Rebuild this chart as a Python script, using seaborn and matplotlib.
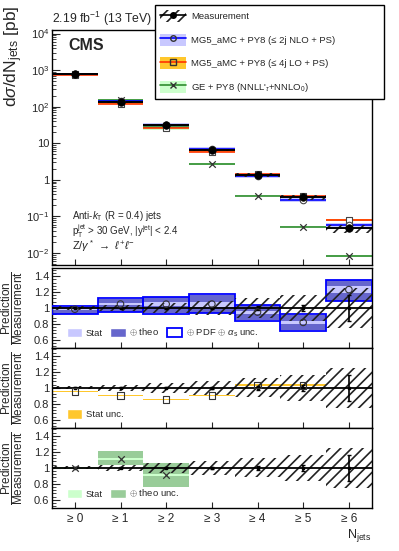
import numpy as np
import pandas as pd
import matplotlib
matplotlib.use("Agg")
import matplotlib.pyplot as plt
import seaborn as sns
from matplotlib.patches import Patch
from matplotlib.lines import Line2D
from matplotlib.ticker import FixedLocator, AutoMinorLocator, FuncFormatter, LogLocator, NullFormatter

# ---------------- data ----------------
categories = ["≥ 0", "≥ 1", "≥ 2", "≥ 3", "≥ 4", "≥ 5", "≥ 6"]
meas = [780, 134, 30.7, 6.6, 1.37, 0.342, 0.0475]
meas_stat = [0.003, 0.005, 0.008, 0.012, 0.025, 0.035, 0.16]
meas_tot = [0.02, 0.04, 0.06, 0.09, 0.12, 0.16, 0.25]

nlo = [768, 140.7, 32.2, 6.93, 1.30, 0.280, 0.0585]
nlo_stat = [0.005, 0.015, 0.02, 0.03, 0.02, 0.02, 0.035]
nlo_theo_up = [0.03, 0.065, 0.085, 0.11, 0.095, 0.12, 0.095]
nlo_theo_dn = [0.055, 0.095, 0.11, 0.105, 0.11, 0.12, 0.115]
nlo_pdf_up = [0.035, 0.07, 0.09, 0.115, 0.10, 0.125, 0.10]
nlo_pdf_dn = [0.06, 0.10, 0.115, 0.11, 0.115, 0.125, 0.12]

lo = [741, 120.6, 26.1, 5.94, 1.418, 0.352, 0.0787]
lo_stat = [0.005, 0.005, 0.006, 0.008, 0.012, 0.012, 0.02]

ge = [776, 148.7, 27.9, 2.69, 0.37, 0.0525, 0.0083]
ge_stat = [0.003, 0.01, 0.01, 0.01, 0.01, 0.01, 0.01]
ge_theo_up = [0.012, 0.09, 0.17, 0.05, 0.05, 0.05, 0.05]
ge_theo_dn = [0.012, 0.07, 0.16, 0.05, 0.05, 0.05, 0.05]

# ---------------- style ----------------
sns.set_theme(style="ticks")
plt.rcParams["font.family"] = ["Liberation Sans", "DejaVu Sans"]
plt.rcParams.update({
    "mathtext.fontset": "custom",
    "mathtext.rm": "Liberation Sans",
    "mathtext.it": "Liberation Sans:italic",
    "mathtext.bf": "Liberation Sans:bold",
    "hatch.linewidth": 1.2,
    "hatch.color": "#222222",
    "axes.linewidth": 1.0,
    "axes.edgecolor": "black",
})

C_NLO_LINE = "#0000ff"
C_NLO_BAND = "#c8c8ff"
C_NLO_THEO = "#6666cc"
C_LO_LINE = "#ff3300"
C_LO_BAND = "#ffc72c"
C_GE_LINE = "#2e8b2e"
C_GE_BAND = "#ccffcc"
C_GE_THEO = "#99cc99"
HATCH = "///"

x = np.arange(len(categories))
meas_a = np.array(meas)
nlo_a, lo_a, ge_a = np.array(nlo), np.array(lo), np.array(ge)

df = pd.DataFrame({"pos": x, "meas": meas_a, "nlo": nlo_a, "lo": lo_a, "ge": ge_a,
                   "r_nlo": nlo_a / meas_a, "r_lo": lo_a / meas_a, "r_ge": ge_a / meas_a})

W, H = 399, 551
fig = plt.figure(figsize=(W / 100, H / 100), dpi=100)

def ax_at(top_px, bot_px, left_px=52, right_px=371.7):
    return fig.add_axes([left_px / W, 1 - bot_px / H, (right_px - left_px) / W, (bot_px - top_px) / H])

ax0 = ax_at(30, 265)
ax1 = ax_at(268.3, 347.7)
ax2 = ax_at(347.7, 427.7)
ax3 = ax_at(427.7, 507.7)

# ---------------- top panel ----------------
def band(ax, lo_v, hi_v, **kw):
    ax.bar(x, np.array(hi_v) - np.array(lo_v), bottom=lo_v, width=1.0, linewidth=0, **kw)

band(ax0, ge_a * (1 - np.array(ge_theo_dn)), ge_a * (1 + np.array(ge_theo_up)), color=C_GE_BAND, zorder=1)
band(ax0, lo_a * (1 - 3 * np.array(lo_stat)), lo_a * (1 + 3 * np.array(lo_stat)), color=C_LO_BAND, zorder=1)
band(ax0, nlo_a * (1 - np.array(nlo_pdf_dn)), nlo_a * (1 + np.array(nlo_pdf_up)), color=C_NLO_BAND, zorder=1)
ax0.hlines(ge_a, x - 0.5, x + 0.5, color=C_GE_LINE, lw=1.2, zorder=2)
ax0.hlines(lo_a, x - 0.5, x + 0.5, color=C_LO_LINE, lw=1.2, zorder=2)
ax0.hlines(nlo_a, x - 0.5, x + 0.5, color=C_NLO_LINE, lw=1.2, zorder=2)
ax0.bar(x, meas_a * 2 * np.array(meas_tot), bottom=meas_a * (1 - np.array(meas_tot)), width=1.0,
        fill=False, hatch=HATCH, edgecolor="#222222", linewidth=0, zorder=3)
ax0.hlines(meas_a, x - 0.5, x + 0.5, color="black", lw=1.4, zorder=4)

sns.scatterplot(data=df, x="pos", y="ge", ax=ax0, marker="x", color="#333333", s=22, linewidth=0.9, zorder=5)
sns.scatterplot(data=df, x="pos", y="lo", ax=ax0, marker="s", facecolor="white", edgecolor="#444444", s=22, linewidth=0.8, zorder=5)
sns.scatterplot(data=df, x="pos", y="nlo", ax=ax0, marker="o", facecolor="white", edgecolor="#444444", s=22, linewidth=0.8, zorder=5)
sns.scatterplot(data=df, x="pos", y="meas", ax=ax0, marker="o", color="black", edgecolor="black", s=30, zorder=6)

ax0.set_yscale("log")
ax0.set_ylim(4.7e-3, 1.25e4)

def logfmt(v, pos):
    e = int(round(np.log10(v)))
    if e == 0:
        return "1"
    if e == 1:
        return "10"
    return r"10$^{%d}$" % e
ax0.yaxis.set_major_locator(FixedLocator([1e-2, 1e-1, 1, 10, 1e2, 1e3, 1e4]))
ax0.yaxis.set_major_formatter(FuncFormatter(logfmt))
ax0.yaxis.set_minor_locator(LogLocator(base=10, subs=np.arange(2, 10), numticks=20))
ax0.yaxis.set_minor_formatter(NullFormatter())

ax0.text(0.05, 0.968, "CMS", transform=ax0.transAxes, fontsize=11.5, fontweight="bold", va="top", ha="left")
ax0.text(0.0, 1.01, r"2.19 fb$^{-1}$ (13 TeV)", transform=ax0.transAxes, fontsize=8.8, va="bottom", ha="left")
ax0.text(0.062, 0.21, r"Anti-$k_{\mathrm{T}}$ (R = 0.4) jets", transform=ax0.transAxes, fontsize=7, va="center")
ax0.text(0.062, 0.145, r"p$_{\mathrm{T}}^{\mathrm{jet}}$ > 30 GeV, |y$^{\mathrm{jet}}$| < 2.4", transform=ax0.transAxes, fontsize=7, va="center")
ax0.text(0.062, 0.08, r"Z/$\gamma^*$ $\rightarrow$ $\ell^{+}\ell^{-}$", transform=ax0.transAxes, fontsize=8, va="center")
fig.text(2 / W, 1 - 6 / H, r"d$\sigma$/dN$_{\mathrm{jets}}$ [pb]", rotation=90, ha="left", va="top", fontsize=12.5)

# legend
handles = [
    (Patch(facecolor="white", hatch=HATCH, edgecolor="#222222", linewidth=0),
     Line2D([], [], color="black", marker="o", ms=4, lw=1.2)),
    (Patch(facecolor=C_NLO_BAND, linewidth=0),
     Line2D([], [], color=C_NLO_LINE, marker="o", mfc="none", mec="#333333", ms=4, lw=1.2)),
    (Patch(facecolor=C_LO_BAND, linewidth=0),
     Line2D([], [], color=C_LO_LINE, marker="s", mfc="none", mec="#333333", ms=4, lw=1.2)),
    (Patch(facecolor=C_GE_BAND, linewidth=0),
     Line2D([], [], color=C_GE_LINE, marker="x", mec="#333333", ms=4, lw=1.2)),
]
labels = ["Measurement", "MG5_aMC + PY8 (≤ 2j NLO + PS)", "MG5_aMC + PY8 (≤ 4j LO + PS)",
          r"GE + PY8 (NNLL$'_{\tau}$+NNLO$_{0}$)"]
leg = fig.legend(handles, labels, loc="upper left",
                 bbox_to_anchor=(155 / W, 1 - 96 / H, 229 / W, 91 / H), mode="expand",
                 fontsize=6.8, frameon=True, fancybox=False, edgecolor="black", framealpha=1,
                 handlelength=2.7, handleheight=1.6, labelspacing=1.2, borderpad=0.55,
                 borderaxespad=0, handletextpad=0.6)
leg.get_frame().set_linewidth(1.0)

# ---------------- ratio panels ----------------
def ratio_common(ax):
    ax.bar(x, 2 * np.array(meas_tot), bottom=1 - np.array(meas_tot), width=1.0,
           fill=False, hatch=HATCH, edgecolor="#222222", linewidth=0, zorder=4)
    ax.axhline(1.0, color="black", lw=1.3, zorder=5)
    ax.errorbar(x, np.ones(len(x)), yerr=meas_stat, fmt="s", ms=2, color="black",
                ecolor="black", elinewidth=1.2, capsize=1.5, zorder=6)
    ax.set_ylim(0.5, 1.5)
    ax.yaxis.set_major_locator(FixedLocator([0.6, 0.8, 1.0, 1.2, 1.4]))
    ax.yaxis.set_major_formatter(FuncFormatter(lambda v, p: "%g" % round(v, 2)))
    ax.yaxis.set_minor_locator(AutoMinorLocator(5))

band(ax1, nlo_a * (1 - np.array(nlo_pdf_dn)) / meas_a, nlo_a * (1 + np.array(nlo_pdf_up)) / meas_a,
     color="white", zorder=1)
ax1.bar(x, (nlo_a * (np.array(nlo_pdf_up) + np.array(nlo_pdf_dn))) / meas_a,
        bottom=nlo_a * (1 - np.array(nlo_pdf_dn)) / meas_a, width=1.0, fill=False,
        edgecolor=C_NLO_LINE, linewidth=1.3, zorder=3)
band(ax1, nlo_a * (1 - np.array(nlo_theo_dn)) / meas_a, nlo_a * (1 + np.array(nlo_theo_up)) / meas_a,
     color=C_NLO_THEO, zorder=2)
band(ax1, nlo_a * (1 - np.array(nlo_stat)) / meas_a, nlo_a * (1 + np.array(nlo_stat)) / meas_a,
     color=C_NLO_BAND, zorder=2.5)
ratio_common(ax1)
sns.scatterplot(data=df, x="pos", y="r_nlo", ax=ax1, marker="o", facecolor="none",
                edgecolor="#333333", s=22, linewidth=0.8, zorder=7)
ax1.legend([Patch(facecolor=C_NLO_BAND), Patch(facecolor=C_NLO_THEO),
            Patch(facecolor="white", edgecolor=C_NLO_LINE, linewidth=1.3)],
           ["Stat", r"$\oplus$ theo", r"$\oplus$ PDF $\oplus$ $\alpha_{\mathrm{s}}$ unc."],
           loc="lower left", ncol=3, frameon=False, fontsize=6.8, handlelength=1.6,
           handleheight=1.1, columnspacing=0.8, handletextpad=0.4, bbox_to_anchor=(0.02, 0.0))

band(ax2, lo_a * (1 - np.array(lo_stat)) / meas_a, lo_a * (1 + np.array(lo_stat)) / meas_a,
     color=C_LO_BAND, zorder=2)
ratio_common(ax2)
sns.scatterplot(data=df, x="pos", y="r_lo", ax=ax2, marker="s", facecolor="none",
                edgecolor="#333333", s=22, linewidth=0.8, zorder=7)
ax2.legend([Patch(facecolor=C_LO_BAND)], ["Stat unc."], loc="lower left", frameon=False,
           fontsize=6.8, handlelength=1.6, handleheight=1.1, handletextpad=0.4, bbox_to_anchor=(0.02, 0.0))

band(ax3, ge_a * (1 - np.array(ge_theo_dn)) / meas_a, ge_a * (1 + np.array(ge_theo_up)) / meas_a,
     color=C_GE_THEO, zorder=2)
band(ax3, ge_a * (1 - np.array(ge_stat)) / meas_a, ge_a * (1 + np.array(ge_stat)) / meas_a,
     color=C_GE_BAND, zorder=2.5)
ratio_common(ax3)
sns.scatterplot(data=df, x="pos", y="r_ge", ax=ax3, marker="x", color="#333333", s=22,
                linewidth=0.9, zorder=7)
ax3.legend([Patch(facecolor=C_GE_BAND), Patch(facecolor=C_GE_THEO)],
           ["Stat", r"$\oplus$ theo unc."], loc="lower left", ncol=2, frameon=False,
           fontsize=6.8, handlelength=1.6, handleheight=1.1, columnspacing=0.8,
           handletextpad=0.4, bbox_to_anchor=(0.02, 0.0))

# ---------------- common axes formatting ----------------
for ax in (ax0, ax1, ax2, ax3):
    ax.set_xlim(-0.5, len(categories) - 0.5)
    ax.set_xticks(x)
    ax.tick_params(axis="x", which="both", direction="in", length=4, width=0.8,
                   bottom=True, top=False, labelbottom=False)
    ax.tick_params(axis="y", which="major", direction="in", length=6, width=0.8, labelsize=8,
                   left=True, right=False, pad=2)
    ax.tick_params(axis="y", which="minor", direction="in", length=3, width=0.6,
                   left=True, right=False)
    for s in ax.spines.values():
        s.set_visible(True)
        s.set_linewidth(1.0)
        s.set_color("black")
    ax.set_xlabel("")
    ax.set_ylabel("")
for ax in (ax1, ax2, ax3):
    ax.set_ylabel(r"$\dfrac{\mathrm{Prediction}}{\mathrm{Measurement}}$", fontsize=8.5)
    ax.yaxis.set_label_coords(-0.085, 0.5)
ax3.tick_params(axis="x", labelbottom=True, labelsize=8.5, pad=4)
ax3.set_xticklabels(categories)
ax3.set_xlabel(r"N$_{\mathrm{jets}}$", fontsize=9, loc="right", labelpad=1)

fig.savefig("out.png", dpi=100)
